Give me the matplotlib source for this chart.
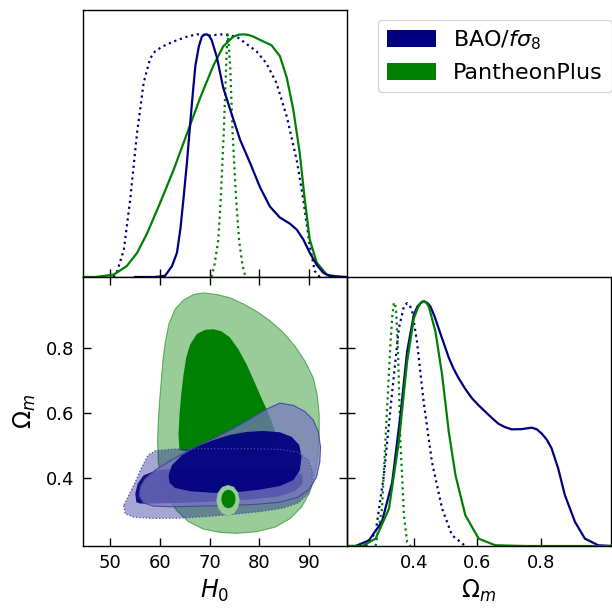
import matplotlib
matplotlib.use("Agg")
import matplotlib.pyplot as plt
from matplotlib.patches import Patch

# ---------------- data ----------------
navy = '#000080'
green = '#008000'

# 1D marginals: H0
h0_bao = [55, 59, 61, 62.4, 63.4, 64.1, 64.7, 65.4, 66.05, 66.6, 67.1, 67.8, 68.4, 68.9, 69.4, 69.9, 70.4,
          71.4, 72.7, 74.1, 76.1, 78.1, 80.1, 82.1, 84.1, 86.1, 87.5, 88.8, 90.1, 91.5, 92.8, 94.1, 97.5]
p_h0_bao = [0, 0, 0.005, 0.045, 0.10, 0.2, 0.32, 0.47, 0.63, 0.76, 0.87, 0.95, 0.99, 0.998, 1.0, 0.993, 0.975,
            0.907, 0.78, 0.69, 0.565, 0.47, 0.37, 0.29, 0.245, 0.22, 0.195, 0.155, 0.10, 0.05, 0.018, 0.004, 0]

h0_pp = [44.5, 47, 50.7, 53.3, 55.4, 57.4, 60, 62.7, 65.4, 68.1, 70.7, 72.7, 74.7, 75.8, 76.8, 77.8, 78.8,
         80.8, 82.4, 84.1, 85.5, 86.8, 88.1, 89.1, 90.1, 91.5, 93.5, 96.2, 97.5]
p_h0_pp = [0, 0, 0.01, 0.045, 0.10, 0.18, 0.305, 0.44, 0.59, 0.74, 0.87, 0.95, 0.99, 0.998, 1.0, 0.997, 0.99,
           0.97, 0.955, 0.91, 0.82, 0.69, 0.51, 0.32, 0.155, 0.06, 0.01, 0.0, 0]

h0_bao_d = [50.6, 51.3, 52.7, 54, 55.35, 56.7, 58, 59, 60.5, 62.7, 65.4, 67.4, 70.1, 72.7, 75.4, 77.4,
            79.4, 81.4, 83.4, 85.5, 87.5, 88.8, 90.1, 91.1, 92.1]
p_h0_bao_d = [0, 0.02, 0.11, 0.32, 0.59, 0.80, 0.90, 0.93, 0.95, 0.97, 0.99, 1.0, 0.995, 1.0, 0.99, 0.96,
              0.93, 0.88, 0.80, 0.66, 0.48, 0.32, 0.13, 0.025, 0]

h0_pp_d = [70.3, 70.9, 71.7, 72.2, 72.8, 73.3, 73.45, 73.6, 73.8, 74.1, 74.6, 75.3, 75.9, 76.6, 77.2]
p_h0_pp_d = [0, 0.045, 0.15, 0.32, 0.59, 0.87, 0.96, 1.0, 0.96, 0.87, 0.59, 0.32, 0.15, 0.045, 0]

# 1D marginals: Omega_m
om_bao = [0.19, 0.217, 0.259, 0.30, 0.332, 0.358, 0.379, 0.40, 0.411, 0.421, 0.428, 0.434, 0.443, 0.452,
          0.465, 0.478, 0.494, 0.51, 0.525, 0.541, 0.562, 0.583, 0.604, 0.625, 0.646, 0.666, 0.687, 0.708,
          0.739, 0.771, 0.787, 0.802, 0.818, 0.833, 0.854, 0.875, 0.907, 0.938, 0.98, 1.02]
p_om_bao = [0, 0, 0.023, 0.10, 0.26, 0.535, 0.795, 0.945, 0.978, 0.993, 1.0, 1.0, 0.993, 0.98,
            0.94, 0.89, 0.83, 0.77, 0.725, 0.686, 0.642, 0.604, 0.575, 0.549, 0.523, 0.50, 0.486, 0.477,
            0.478, 0.484, 0.477, 0.46, 0.435, 0.40, 0.317, 0.208, 0.098, 0.03, 0.003, 0]

om_pp = [0.19, 0.238, 0.28, 0.322, 0.353, 0.379, 0.40, 0.413, 0.421, 0.431, 0.439, 0.447, 0.468, 0.489,
         0.51, 0.531, 0.562, 0.604, 0.656, 0.75, 1.02]
p_om_pp = [0, 0, 0.03, 0.153, 0.426, 0.754, 0.93, 0.975, 0.993, 1.0, 0.995, 0.98, 0.877, 0.70,
           0.467, 0.29, 0.126, 0.03, 0.003, 0, 0]

om_bao_d = [0.249, 0.28, 0.306, 0.332, 0.353, 0.369, 0.379, 0.387, 0.395, 0.41, 0.431, 0.457, 0.489,
            0.52, 0.562]
p_om_bao_d = [0, 0.057, 0.29, 0.63, 0.89, 0.98, 0.993, 0.985, 0.96, 0.836, 0.59, 0.344, 0.153,
              0.044, 0.0]

om_pp_d = [0.28, 0.30, 0.316, 0.327, 0.333, 0.337, 0.341, 0.345, 0.351, 0.358, 0.369, 0.379, 0.39]
p_om_pp_d = [0, 0.153, 0.563, 0.836, 0.95, 0.993, 0.995, 0.95, 0.768, 0.426, 0.126, 0.016, 0]

# 2D contours (H0, Omega_m) outlines
pp_out_h0 = [68.73, 71.40, 74.08, 76.76, 79.43, 82.11, 84.78, 87.12, 89.13, 90.80, 91.61, 92.01, 92.01,
             91.74, 91.14, 90.13, 88.46, 86.12, 83.11, 79.43, 75.42, 72.07, 68.73, 65.72, 63.38, 61.51,
             60.23, 59.63, 59.50, 59.63, 59.90, 60.23, 60.57, 61.04, 61.77, 63.04, 64.72, 66.72]
pp_out_om = [0.971, 0.966, 0.956, 0.937, 0.914, 0.885, 0.849, 0.807, 0.761, 0.709, 0.657, 0.595, 0.533,
             0.470, 0.408, 0.356, 0.310, 0.274, 0.248, 0.234, 0.229, 0.232, 0.242, 0.265, 0.299, 0.341,
             0.393, 0.450, 0.512, 0.574, 0.636, 0.698, 0.761, 0.818, 0.875, 0.921, 0.949, 0.966]

pp_in_h0 = [70.74, 72.41, 74.08, 75.75, 77.42, 78.76, 80.10, 81.30, 82.44, 83.31, 83.78, 83.11, 80.10,
            75.42, 70.74, 66.05, 63.91, 63.71, 63.91, 64.25, 64.72, 65.25, 66.05, 67.39, 69.06]
pp_in_om = [0.859, 0.852, 0.833, 0.797, 0.750, 0.704, 0.657, 0.616, 0.574, 0.533, 0.491, 0.465, 0.470,
            0.476, 0.479, 0.481, 0.486, 0.533, 0.595, 0.657, 0.719, 0.771, 0.812, 0.844, 0.857]

bao_out_h0 = [84.11, 86.79, 89.13, 90.80, 91.81, 92.27, 92.14, 91.47, 90.13, 87.79, 84.11, 78.76, 73.41,
              68.06, 62.71, 58.70, 56.69, 55.82, 56.02, 57.02, 59.03, 61.71, 64.72, 68.06, 71.40, 74.75,
              78.09, 81.10]
bao_out_om = [0.631, 0.624, 0.605, 0.579, 0.543, 0.496, 0.450, 0.403, 0.367, 0.341, 0.325, 0.318, 0.315,
              0.313, 0.311, 0.313, 0.323, 0.344, 0.372, 0.398, 0.424, 0.450, 0.476, 0.502, 0.527, 0.553,
              0.582, 0.610]

bao_in_h0 = [61.71, 62.37, 64.38, 67.39, 70.74, 74.08, 77.42, 80.77, 84.11, 86.45, 87.99, 88.46, 88.13,
             86.79, 84.11, 80.10, 75.42, 70.74, 66.05, 63.04, 61.91]
bao_in_om = [0.408, 0.439, 0.470, 0.496, 0.517, 0.533, 0.542, 0.545, 0.541, 0.527, 0.502, 0.465, 0.424,
             0.393, 0.375, 0.364, 0.356, 0.354, 0.359, 0.369, 0.385]

baod_out_h0 = [52.68, 53.01, 54.68, 58.70, 64.05, 69.40, 74.75, 80.10, 84.78, 87.79, 89.80, 90.60, 90.60,
               89.80, 87.79, 84.11, 78.76, 73.41, 68.06, 62.71, 59.03, 57.56, 56.35, 55.02, 53.68]
baod_out_om = [0.315, 0.289, 0.279, 0.275, 0.276, 0.281, 0.288, 0.296, 0.307, 0.323, 0.351, 0.388, 0.424,
               0.455, 0.479, 0.488, 0.490, 0.490, 0.490, 0.489, 0.484, 0.470, 0.434, 0.388, 0.346]

baod_in_h0 = [55.22, 55.02, 55.48, 56.69, 59.36, 64.05, 70.74, 77.42, 83.44, 87.12, 88.66, 88.66, 87.12,
              83.44, 77.42, 70.74, 64.05, 58.70, 56.02]
baod_in_om = [0.325, 0.351, 0.382, 0.408, 0.424, 0.429, 0.431, 0.431, 0.429, 0.424, 0.408, 0.382, 0.359,
              0.341, 0.333, 0.327, 0.323, 0.321, 0.321]

ppd_out_h0 = [76.0, 75.69, 74.84, 73.67, 72.5, 71.65, 71.34, 71.65, 72.5, 73.67, 74.84, 75.69]
ppd_out_om = [0.331, 0.3545, 0.372, 0.378, 0.372, 0.3545, 0.331, 0.3075, 0.290, 0.284, 0.290, 0.3075]
ppd_in_h0 = [75.2, 75.0, 74.48, 73.75, 73.02, 72.5, 72.3, 72.5, 73.02, 73.75, 74.48, 75.0]
ppd_in_om = [0.335, 0.3495, 0.360, 0.364, 0.360, 0.3495, 0.335, 0.3205, 0.310, 0.306, 0.310, 0.3205]

h0_ticks = [50, 60, 70, 80, 90]
om_ticks = [0.4, 0.6, 0.8]
h0_lim = (44.5, 97.6)
om_lim = (0.19, 1.02)
labels = ['BAO/$f\\sigma_8$', 'PantheonPlus']

# ---------------- figure ----------------
W, H = 612, 610
fig = plt.figure(figsize=(W / 100, H / 100), dpi=100)
ax1 = fig.add_axes([83 / W, 333 / H, 264 / W, 267 / H])
ax3 = fig.add_axes([83 / W, 64 / H, 264 / W, 269 / H])
ax4 = fig.add_axes([347 / W, 64 / H, 264 / W, 269 / H])
ax4.set_facecolor('none')

TF = 13
LF = 17
lw = 1.6
lkw = dict(lw=lw, solid_joinstyle='round', dash_joinstyle='round')

for ax in (ax1, ax3, ax4):
    for s in ax.spines.values():
        s.set_linewidth(1.0)

# top-left: H0 marginal
ax1.plot(h0_bao_d, p_h0_bao_d, color=navy, ls=':', **lkw)
ax1.plot(h0_pp_d, p_h0_pp_d, color=green, ls=':', **lkw)
ax1.plot(h0_pp, p_h0_pp, color=green, **lkw)
ax1.plot(h0_bao, p_h0_bao, color=navy, **lkw)
ax1.set_xlim(*h0_lim)
ax1.set_ylim(0, 1.1)
ax1.set_xticks(h0_ticks)
ax1.set_yticks([])
ax1.tick_params(axis='x', direction='in', length=6, width=1, labelbottom=False)

# bottom-left: 2D contours
fkw = dict(joinstyle='round')
ax3.fill(pp_out_h0, pp_out_om, facecolor=(0.0, 0.5, 0.0, 0.4), edgecolor=(0, 0.5, 0, 0.55), lw=0.8,
         zorder=1, **fkw)
ax3.fill(pp_in_h0, pp_in_om, facecolor=green, edgecolor='none', zorder=2, **fkw)
ax3.fill(baod_out_h0, baod_out_om, facecolor=(0, 0, 0.5, 0.35), edgecolor='none', zorder=3, **fkw)
ax3.fill(baod_in_h0, baod_in_om, facecolor=(0, 0, 0.5, 0.9), edgecolor='none', zorder=4, **fkw)
ax3.fill(bao_out_h0, bao_out_om, facecolor=(0.47, 0.47, 0.75, 0.72), edgecolor=(0.25, 0.25, 0.65, 0.9),
         lw=0.8, zorder=5, **fkw)
ax3.fill(bao_in_h0, bao_in_om, facecolor=(0, 0, 0.5, 0.93), edgecolor='none', zorder=6, **fkw)
ax3.fill(baod_out_h0, baod_out_om, facecolor='none', edgecolor=(0.3, 0.3, 0.7), lw=0.9, ls=':',
         zorder=7, **fkw)
ax3.fill(ppd_out_h0, ppd_out_om, facecolor=(0.6, 0.8, 0.6), edgecolor=(0.45, 0.7, 0.45), lw=0.6,
         ls=':', zorder=8, **fkw)
ax3.fill(ppd_in_h0, ppd_in_om, facecolor=green, edgecolor='none', zorder=9, **fkw)
ax3.set_xlim(*h0_lim)
ax3.set_ylim(*om_lim)
ax3.set_xticks(h0_ticks)
ax3.set_yticks(om_ticks)
ax3.tick_params(direction='in', length=6, width=1, top=True, right=False, labelsize=TF, pad=6)
ax3.set_xlabel('$H_0$', fontsize=LF, labelpad=4)
ax3.set_ylabel('$\\Omega_m$', fontsize=LF, labelpad=6)

ax3r = ax3.twinx()
ax3r.set_ylim(*om_lim)
ax3r.set_yticks(om_ticks)
ax3r.tick_params(axis='y', direction='inout', length=12, width=1, labelright=False)
for s in ax3r.spines.values():
    s.set_visible(False)

# bottom-right: Omega_m marginal
ax4.plot(om_bao_d, p_om_bao_d, color=navy, ls=':', **lkw)
ax4.plot(om_pp_d, p_om_pp_d, color=green, ls=':', **lkw)
ax4.plot(om_bao, p_om_bao, color=navy, **lkw)
ax4.plot(om_pp, p_om_pp, color=green, **lkw)
ax4.set_xlim(*om_lim)
ax4.set_ylim(0, 1.1)
ax4.set_xticks(om_ticks)
ax4.set_yticks([])
ax4.tick_params(axis='x', direction='in', length=6, width=1, labelsize=TF, pad=6)
ax4.set_xlabel('$\\Omega_m$', fontsize=LF, labelpad=4)

handles = [Patch(facecolor=navy, edgecolor='none'), Patch(facecolor=green, edgecolor='none')]
fig.legend(handles, labels, loc='upper right', bbox_to_anchor=(1.0, 0.968), fontsize=16,
           frameon=True, handlelength=2.2, handleheight=0.8, borderaxespad=0.0)

fig.savefig('out.png', dpi=100)
